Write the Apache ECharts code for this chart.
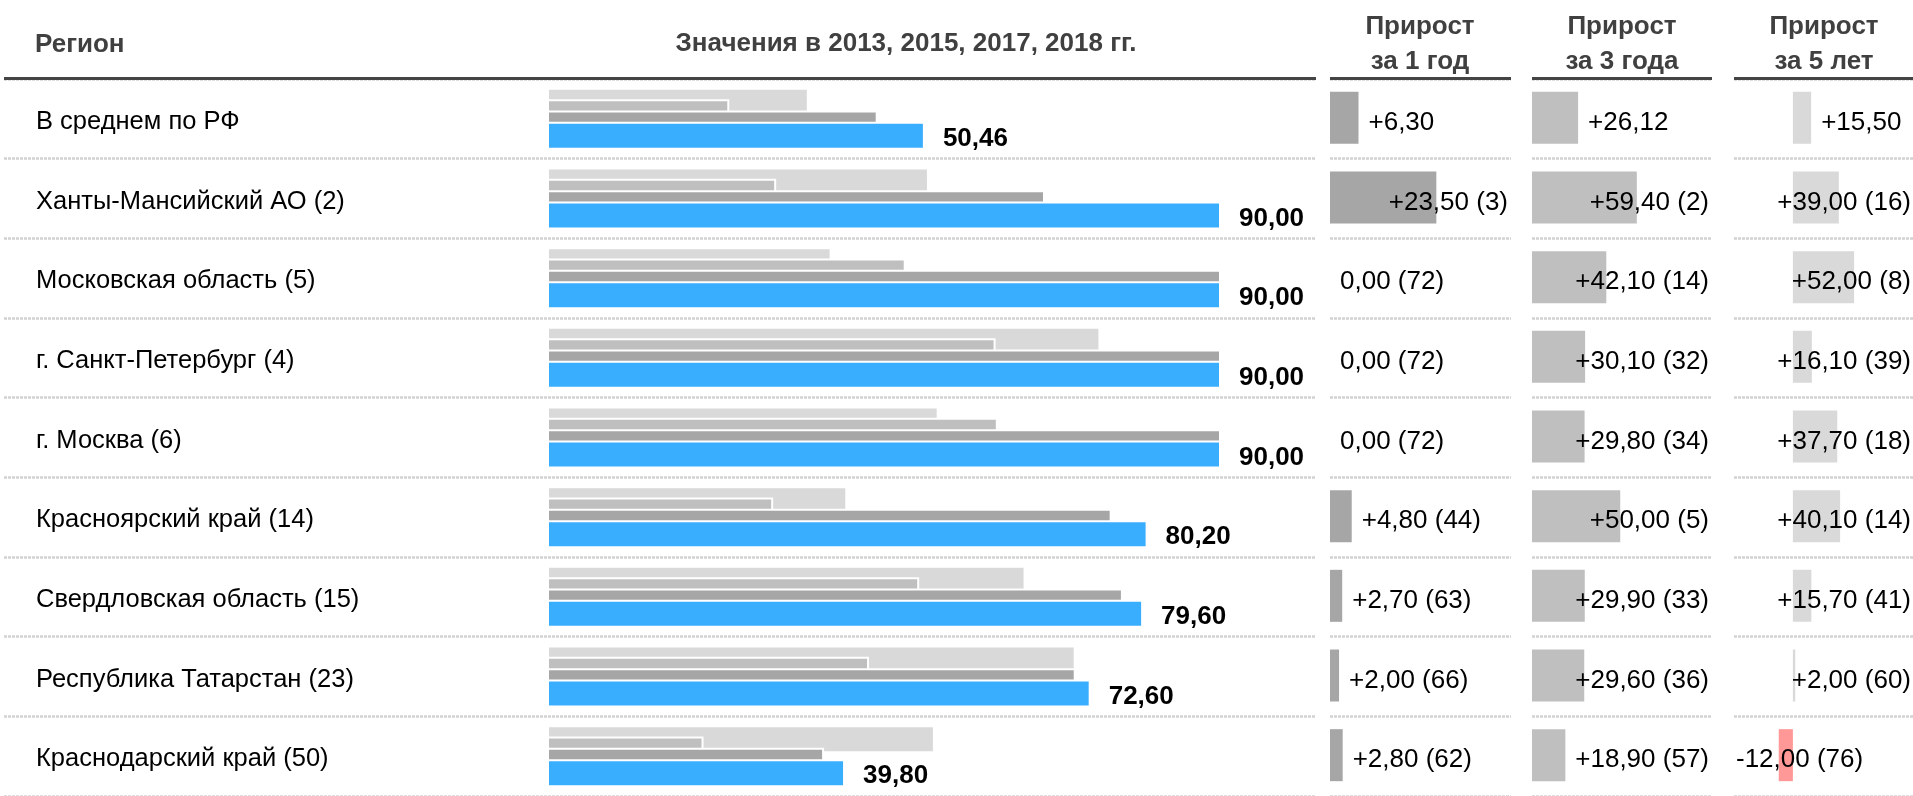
<!DOCTYPE html>
<html><head><meta charset="utf-8">
<script src="https://cdn.jsdelivr.net/npm/echarts@6/dist/echarts.min.js"></script>
<style>html,body{margin:0;padding:0;background:#fff}#c{width:1913px;height:796px}</style>
</head><body><div id="c"></div>
<script>
const regions = ['В среднем по РФ','Ханты-Мансийский АО (2)','Московская область (5)','г. Санкт-Петербург (4)','г. Москва (6)','Красноярский край (14)','Свердловская область (15)','Республика Татарстан (23)','Краснодарский край (50)'];
const v2013 = [34.96, 51.00, 38.00, 73.90, 52.30, 40.10, 63.90, 70.60, 51.80];
const v2015 = [24.34, 30.60, 47.90, 59.90, 60.20, 30.20, 49.70, 43.00, 20.90];
const v2017 = [44.16, 66.50, 90.00, 90.00, 90.00, 75.40, 76.90, 70.60, 37.00];
const v2018 = [50.46, 90.00, 90.00, 90.00, 90.00, 80.20, 79.60, 72.60, 39.80];
const grow1 = [6.30, 23.50, 0.00, 0.00, 0.00, 4.80, 2.70, 2.00, 2.80];
const rank1 = [null, 3, 72, 72, 72, 44, 63, 66, 62];
const grow3 = [26.12, 59.40, 42.10, 30.10, 29.80, 50.00, 29.90, 29.60, 18.90];
const rank3 = [null, 2, 14, 32, 34, 5, 33, 36, 57];
const grow5 = [15.50, 39.00, 52.00, 16.10, 37.70, 40.10, 15.70, 2.00, -12.00];
const rank5 = [null, 16, 8, 39, 18, 14, 41, 60, 76];
const headRegion = 'Регион';
const headValues = 'Значения в 2013, 2015, 2017, 2018 гг.';
const headG1 = 'Прирост\nза 1 год';
const headG3 = 'Прирост\nза 3 года';
const headG5 = 'Прирост\nза 5 лет';

const FAM = '"Liberation Sans", Arial, sans-serif';
const FONT = '26px ' + FAM;
const BOLD = 'bold 26px ' + FAM;
const C13 = '#d9d9d9', C15 = '#bfbfbf', C17 = '#a6a6a6', C18 = '#3aaefe', CNEG = '#ff9896';
const HEAD = '#404040';

function fmt(v, r) {
  let s = (v > 0 ? '+' : '') + v.toFixed(2).replace('.', ',');
  if (r != null) s += ' (' + r + ')';
  return s;
}
const mctx = document.createElement('canvas').getContext('2d');
function measure(t) { mctx.font = FONT; return mctx.measureText(t).width; }

const TOP = 79, H = 720;
const cols = [
  {left: 4, width: 1312},
  {left: 547, width: 674},
  {left: 1330, width: 181},
  {left: 1532, width: 180},
  {left: 1734, width: 180}
];
const grids = cols.map(c => ({left: c.left, width: c.width, top: TOP, height: H}));
const xRanges = [[0, 1], [0, 90], [0, 40], [0, 102], [-50, 102]];
const xAxes = xRanges.map((r, i) => ({type: 'value', gridIndex: i, min: r[0], max: r[1], show: false}));
const dashed = {show: true, interval: 0, lineStyle: {color: '#d2d2d2', width: 2.5, type: [3, 1]}};
const yAxes = cols.map((c, i) => ({
  type: 'category', gridIndex: i, data: regions, inverse: true,
  show: i !== 1,
  axisLine: {show: false}, axisTick: {show: false},
  splitLine: i === 1 ? {show: false} : dashed,
  axisLabel: i === 0 ? {show: true, inside: true, margin: 32, align: 'left', verticalAlign: 'top', lineHeight: 6,
    fontSize: 25.5, color: '#000', fontFamily: FAM} : {show: false}
}));

function barSeries(name, data, color, label) {
  const s = {
    type: 'bar', name, data, xAxisIndex: 1, yAxisIndex: 1,
    barWidth: 28, barGap: '-59.5%',
    itemStyle: {color, borderColor: '#fff', borderWidth: 2},
    silent: true, animation: false
  };
  if (label) s.label = {show: true, position: 'right', distance: 18, offset: [0, 3],
    fontSize: 26, fontWeight: 'bold', fontFamily: FAM, color: '#000',
    formatter: p => p.value.toFixed(2).replace('.', ',')};
  return s;
}

function colSeries(gi, vals, ranks, color) {
  const colLeft = cols[gi].left, colRight = cols[gi].left + cols[gi].width;
  return {
    type: 'custom', xAxisIndex: gi, yAxisIndex: gi, animation: false, silent: true,
    data: vals.map((v, i) => [v, i]),
    encode: {x: 0, y: 1},
    renderItem(params, api) {
      const v = api.value(0), i = api.value(1);
      const p0 = api.coord([0, i]), p1 = api.coord([v, i]);
      const cy = p0[1];
      const txt = fmt(v, ranks[i]);
      const tw = measure(txt);
      let tx;
      if (v >= 0) tx = Math.min(p1[0] + 10, colRight - 3 - tw);
      else tx = Math.max(colLeft + 2, p1[0] - 10 - tw);
      return {type: 'group', children: [
        {type: 'rect', shape: {x: Math.min(p0[0], p1[0]), y: cy - 27, width: Math.abs(p1[0] - p0[0]), height: 52},
         style: {fill: v < 0 ? CNEG : color}},
        {type: 'text', x: tx, y: cy + 4, style: {text: txt, font: FONT, fill: '#000', align: 'left', verticalAlign: 'middle', textAlign: 'left', textVerticalAlign: 'middle'}}
      ]};
    }
  };
}

function headText(text, x, y) {
  return {type: 'text', x, y, style: {text, font: BOLD, fill: HEAD, lineHeight: 35,
    align: 'center', verticalAlign: 'middle', textAlign: 'center', textVerticalAlign: 'middle'}};
}
const graphics = [
  {type: 'text', x: 35, y: 45, style: {text: headRegion, font: BOLD, fill: HEAD, align: 'left', verticalAlign: 'middle', textAlign: 'left', textVerticalAlign: 'middle'}},
  headText(headValues, 906, 44),
  headText(headG1, 1420, 44.5),
  headText(headG3, 1622, 44.5),
  headText(headG5, 1824, 44.5)
];
[[4, 1316], [1330, 1511], [1532, 1712], [1734, 1914]].forEach(s => {
  graphics.push({type: 'line', shape: {x1: s[0], y1: 78.5, x2: s[1], y2: 78.5}, style: {stroke: '#444', lineWidth: 3}, z: 10});
});

const chart = echarts.init(document.getElementById('c'), null, {renderer: 'canvas'});
chart.setOption({
  animation: false,
  grid: grids,
  xAxis: xAxes,
  yAxis: yAxes,
  graphic: graphics,
  series: [
    barSeries('2013', v2013, C13),
    barSeries('2015', v2015, C15),
    barSeries('2017', v2017, C17),
    barSeries('2018', v2018, C18, true),
    colSeries(2, grow1, rank1, C17),
    colSeries(3, grow3, rank3, C15),
    colSeries(4, grow5, rank5, C13)
  ]
});
</script></body></html>
